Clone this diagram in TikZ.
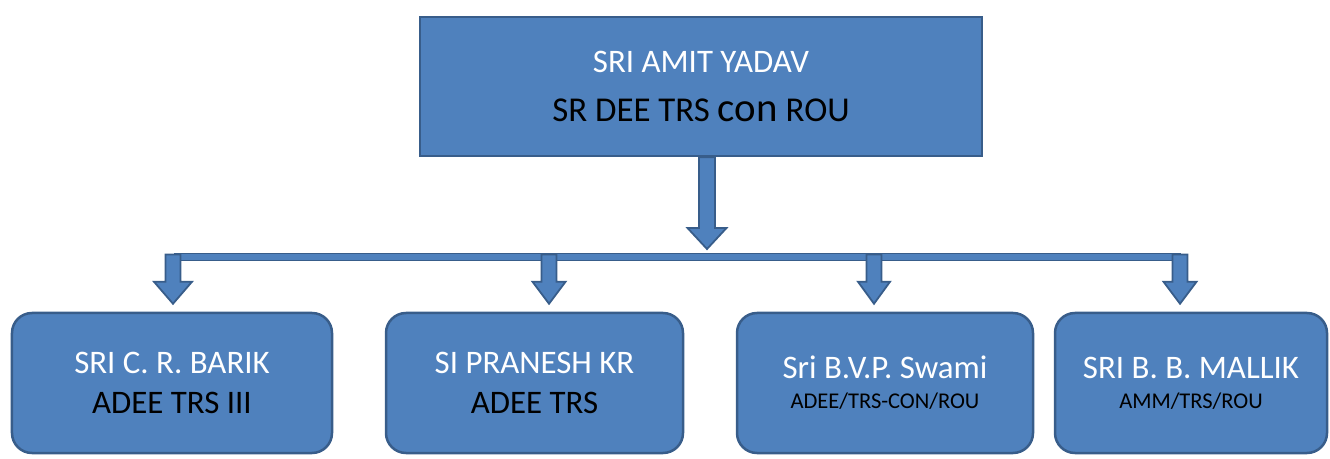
\documentclass[tikz,border=0pt]{standalone}
\usepackage{fontspec}
\setmainfont{Carlito}
\usetikzlibrary{calc}

\definecolor{officeblue}{HTML}{4F81BD}
\definecolor{officeline}{HTML}{385D8A}

\newcommand\blockarrow[5]{%
  \draw[arrowbody] ($(#1)+(-#3,0)$) -- ($(#2)+(-#3,-#5)$) -- ($(#2)+(-#4,-#5)$) -- (#2)
    -- ($(#2)+(#4,-#5)$) -- ($(#2)+(#3,-#5)$) -- ($(#1)+(#3,0)$) -- cycle;}

\begin{document}
\begin{tikzpicture}[x=1bp,y=-1bp,
  boxstyle/.style={draw=officeline, fill=officeblue, line width=2.5bp, inner sep=0pt, align=center},
  headbox/.style={boxstyle, minimum width=562bp, minimum height=139bp, font=\fontsize{33}{50}\selectfont},
  staffbox/.style={boxstyle, rounded corners=20bp, minimum height=140bp, font=\fontsize{33}{41}\selectfont},
  arrowbody/.style={draw=officeline, fill=officeblue, line width=1.8bp, line join=miter},
  smallpost/.style={font=\fontsize{22.6}{41}\selectfont}]
\useasboundingbox (0,0) rectangle (1330,459);

\node[headbox] (yadav) at (701,86.5) {\textcolor{white}{SRI AMIT YADAV}\\
  {\fontsize{35}{50}\selectfont SR DEE TRS {\fontsize{41}{50}\selectfont con} ROU}};
\node[staffbox, minimum width=320bp] (barik) at (172,383) {\textcolor{white}{SRI C. R. BARIK}\\ ADEE TRS III};
\node[staffbox, minimum width=297bp] (pranesh) at (534.5,383) {\textcolor{white}{SI PRANESH KR}\\ ADEE TRS};
\node[staffbox, minimum width=296bp] (swami) at (885,383) {\textcolor{white}{Sri B.V.P. Swami}\\[-11bp] {\fontsize{22.6}{30}\selectfont ADEE/TRS-CON/ROU}};
\node[staffbox, minimum width=272bp] (mallik) at (1191,383) {\textcolor{white}{SRI B. B. MALLIK}\\[-11bp] {\fontsize{22.6}{30}\selectfont AMM/TRS/ROU}};

\coordinate (busL) at (174,256.5);
\coordinate (busR) at (1180,256.5);
\draw[draw=officeline, fill=officeblue, line width=0.8bp] ($(busL)+(0,-3.5)$) rectangle ($(busR)+(0,3.5)$);

\coordinate (drop) at ($(yadav.south)+(6,0)$);
\path (drop |- busL) ++(0,-7.5) coordinate (hub);
\blockarrow{drop}{hub}{8}{19.5}{21}

\foreach \who/\dx/\hw in {barik/1/19, pranesh/14.5/16.5, swami/-11/16, mallik/-11/16.5} {
  \path (\who.north) ++(\dx,-8) coordinate (\who-tip);
  \path (\who-tip |- busL) ++(0,-2) coordinate (\who-top);
  \blockarrow{\who-top}{\who-tip}{7.5}{\hw}{22}
}
\end{tikzpicture}
\end{document}
